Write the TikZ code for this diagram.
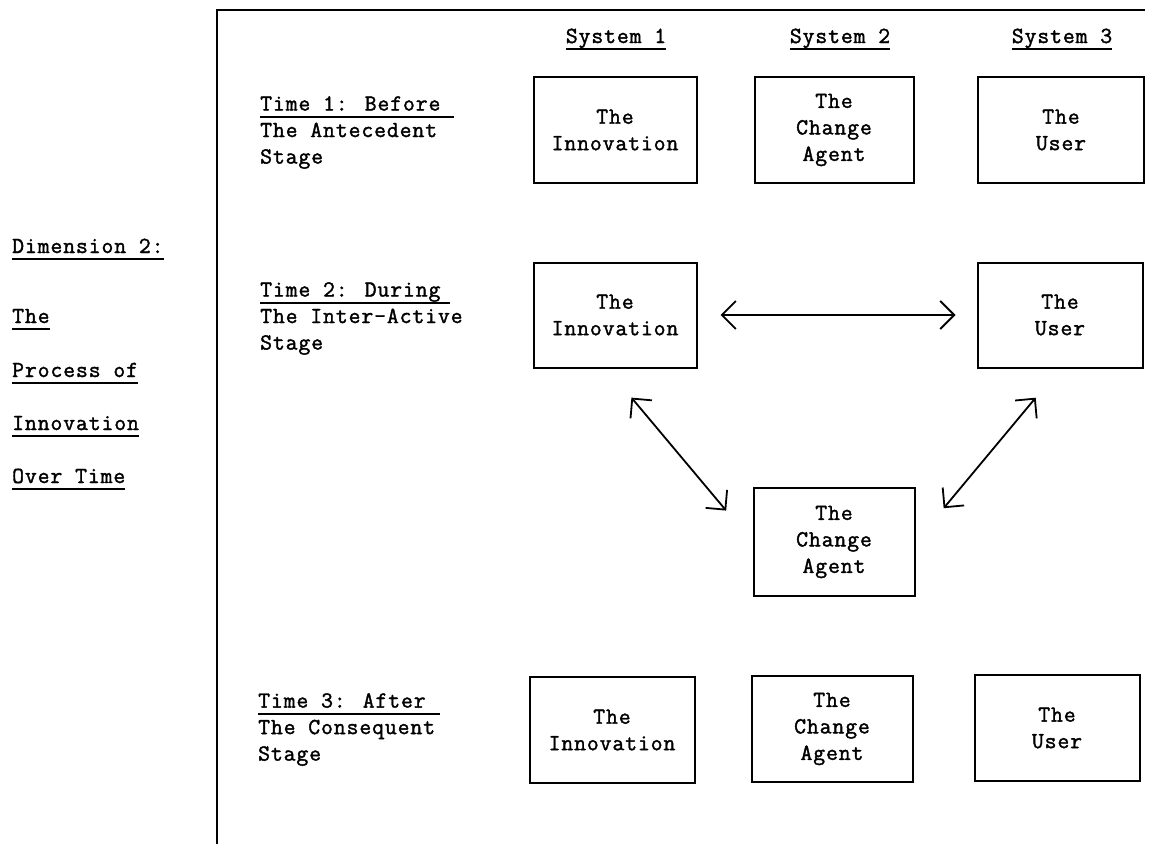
\documentclass[tikz,border=0pt]{standalone}
\usepackage{fontspec}
\usetikzlibrary{arrows.meta,positioning}
\newfontfamily\typefont{Latin Modern Mono}[LetterSpace=4,FakeBold=1.6]
\newcommand{\labelfont}{\typefont\fontsize{23}{26.5}\selectfont}
\newcommand{\uline}[1]{\setbox0=\hbox{#1}\rlap{\rule[-7pt]{\wd0}{1.8pt}}\box0}
\tikzset{
  sysbox/.style={draw, line width=2pt, minimum width=163pt, minimum height=106pt,
    align=center, font=\labelfont},
  stagelabel/.style={anchor=north west, inner sep=0pt, align=left, font=\labelfont},
  dimlabel/.style={anchor=base west, inner sep=0pt, font=\labelfont},
  syslabel/.style={anchor=base, inner sep=0pt, font=\labelfont},
  link/.style={<->, line width=1.8pt},
}

\begin{document}
\begin{tikzpicture}[x=1pt, y=-1pt, >={Straight Barb[length=14pt,width=28pt]}]
  \useasboundingbox (0,0) rectangle (1153,844);
  % frame
  \draw[line width=2.5pt] (217,844) -- (217,10) -- (1145,10);
  % Dimension 2
  \foreach \y/\t [count=\i] in {253/Dimension 2:, 323/The, 377/Process of, 430/Innovation, 483/Over Time}
    \node[dimlabel] (dim\i) at (12,\y) {\uline{\t}};
  % systems
  \node[syslabel] (sys1) at (616,43) {\uline{System 1}};
  \node[syslabel] (sys2) at (840,43) {\uline{System 2}};
  \node[syslabel] (sys3) at (1062,43) {\uline{System 3}};
  % times
  \node[stagelabel] (time1) at (260,96) {\uline{Time 1: Before\kern14pt}\\The Antecedent\\Stage};
  \node[stagelabel] (time2) at (260,282) {\uline{Time 2: During\kern10pt}\\The Inter-Active\\Stage};
  \node[stagelabel] (time3) at (258,693) {\uline{Time 3: After\kern14pt}\\The Consequent\\Stage};
  % Time 1
  \node[sysbox] (inn1) at (615,130) {The\\Innovation};
  \node[sysbox, minimum width=159pt] (agt1) at (834,130) {The\\Change\\Agent};
  \node[sysbox, minimum width=166pt] (usr1) at (1061,130) {The\\User};
  % Time 2
  \node[sysbox, minimum height=105pt] (inn2) at (615,315) {The\\Innovation};
  \node[sysbox, minimum width=165pt, minimum height=105pt] (usr2) at (1060,315) {The\\User};
  \node[sysbox, minimum width=161pt, minimum height=108pt] (agt2) at (834,542) {The\\Change\\Agent};
  \draw[link, shorten <=23pt, shorten >=21pt] (inn2.east) -- (usr2.west);
  \draw[link, shorten <=38pt, shorten >=41pt] ([xshift=-8pt]inn2.south) -- (agt2.west);
  \draw[link, shorten <=38pt, shorten >=44pt] (usr2.south) -- (agt2.east);
  % Time 3
  \node[sysbox, minimum width=165pt] (inn3) at (612,730) {The\\Innovation};
  \node[sysbox, minimum width=161pt] (agt3) at (832,729) {The\\Change\\Agent};
  \node[sysbox, minimum width=165pt] (usr3) at (1057,728) {The\\User};
\end{tikzpicture}
\end{document}
